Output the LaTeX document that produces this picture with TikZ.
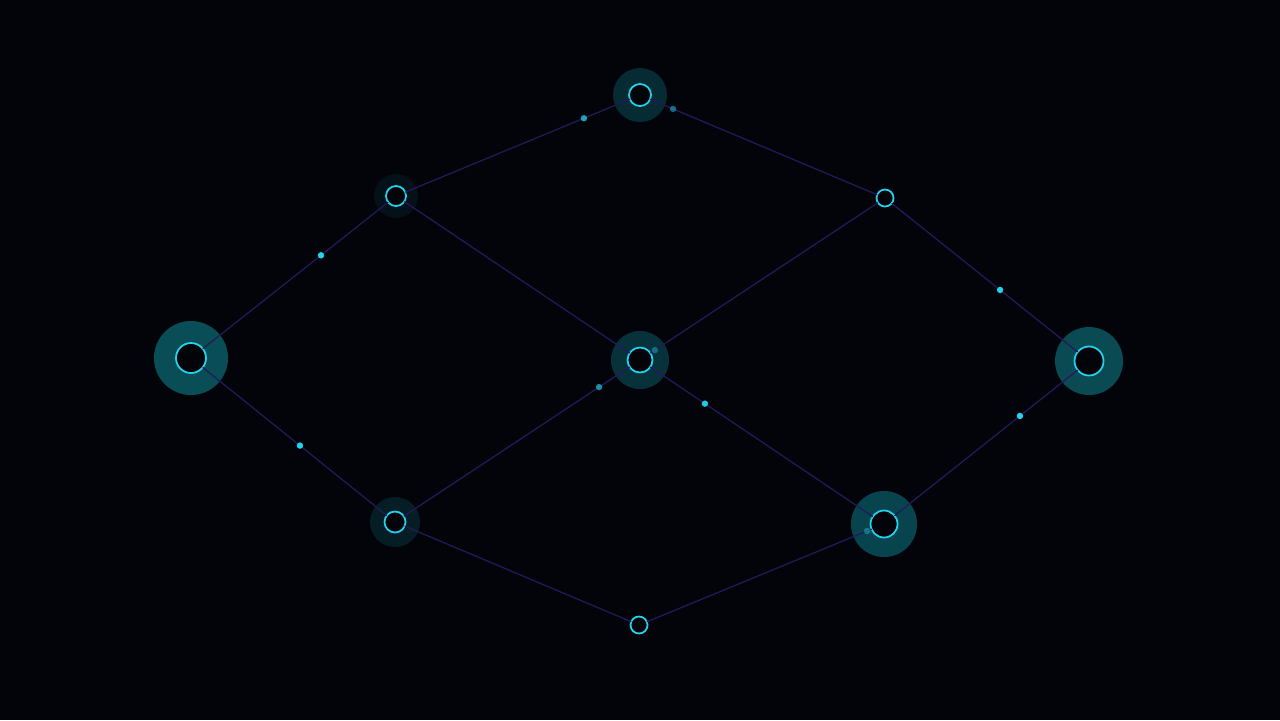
\documentclass[tikz,border=0pt]{standalone}
\usepackage{tikz}
\usetikzlibrary{calc}
\definecolor{bgdark}{RGB}{3,4,10}
\definecolor{ringcyan}{RGB}{34,211,238}
\definecolor{halocyan}{RGB}{20,200,215}
\definecolor{edgeviolet}{RGB}{38,24,92}

\begin{document}
\begin{tikzpicture}[x=0.01cm,y=-0.01cm,
    ring/.style={circle,draw=ringcyan,line width=0.5pt,fill=bgdark,inner sep=0,outer sep=0},
    link/.style={edgeviolet,line width=0.35pt},
    spark/.style={fill=ringcyan,opacity=#1}]
      \fill[bgdark] (0,0) rectangle (1280,720);
      \useasboundingbox (0,0) rectangle (1280,720);
      % halos, then the rings on top
      \foreach \name/\x/\y/\r/\h/\o in {T/640/95/11/27/0.2, UL/396/196/10/22/0.07,
          UR/885/198/8.5/0/0, L/191/358/15/37/0.38, C/640/360/12.5/29/0.24,
          R/1089/361/14.5/34/0.36, LL/395/522/10.5/25/0.13, LR/884/524/13.5/33/0.33,
          B/639/625/8.5/0/0}
        {
          \fill[halocyan,opacity=\o] (\x,\y) circle [radius=\h];
          \node[ring,minimum size=\r*0.2mm] (n\name) at (\x,\y) {};
        }
      \foreach \a/\b in {T/UL,T/UR,UL/L,UL/C,UR/C,UR/R,L/LL,C/LL,C/LR,R/LR,LL/B,LR/B}
        \draw[link] (n\a) -- (n\b);
      % small dots on the links
      \foreach \a/\b/\t/\o in {T/UL/0.23/0.75, T/UR/0.135/0.5, UL/L/0.366/1, L/LL/0.534/1,
          C/LL/0.167/0.65, UR/C/0.939/0.4, C/LR/0.266/0.95, UR/R/0.564/1,
          R/LR/0.337/1, LR/B/0.069/0.4}
        \fill[spark=\o] ($(n\a)!\t!(n\b)$) circle [radius=3.2];
\end{tikzpicture}
\end{document}
